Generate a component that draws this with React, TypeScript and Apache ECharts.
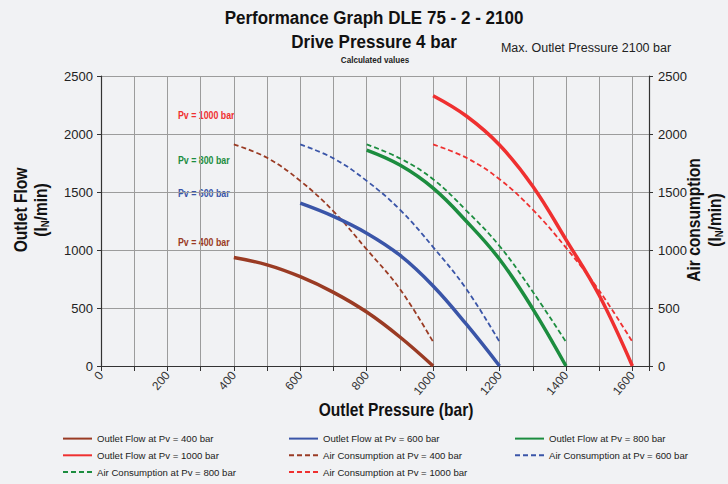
import React, { useEffect, useRef } from "react";
import * as echarts from "echarts";

// ---- data ----
const pressure400 = [400, 500, 600, 700, 800, 900, 1000];
const pressure600 = [600, 700, 800, 900, 1000, 1100, 1200];
const pressure800 = [800, 900, 1000, 1100, 1200, 1300, 1400];
const pressure1000 = [1000, 1100, 1200, 1300, 1400, 1500, 1600];

const flow400 = [935, 872, 770, 635, 465, 250, 0];
const flow600 = [1404, 1290, 1145, 955, 690, 360, 0];
const flow800 = [1861, 1732, 1533, 1248, 920, 493, 0];
const flow1000 = [2330, 2155, 1905, 1550, 1090, 610, 0];

const air400 = [1910, 1795, 1596, 1333, 1005, 664, 208];
const air600 = [1910, 1790, 1596, 1348, 1025, 664, 208];
const air800 = [1910, 1790, 1610, 1340, 1034, 640, 208];
const air1000 = [1910, 1795, 1610, 1348, 1020, 650, 208];

const yTicks = [0, 500, 1000, 1500, 2000, 2500];

const BROWN = "#9a3b24";
const BLUE = "#3a55a8";
const GREEN = "#1c8d3f";
const RED = "#ef3030";

const SANS = "'Liberation Sans', Arial, sans-serif";

const zip = (xs: number[], ys: number[]) => xs.map((x, i) => [x, ys[i]]);

export default function App() {
  const ref = useRef<HTMLDivElement>(null);
  useEffect(() => {
    if (!ref.current) return;
    const chart = echarts.init(ref.current, null, { renderer: "svg" });

    const solid = (name: string, xs: number[], ys: number[], color: string) => ({
      name,
      type: "line",
      data: zip(xs, ys),
      smooth: 0.4,
      symbol: "none",
      yAxisIndex: 0,
      lineStyle: { color, width: 3.5 },
      itemStyle: { color },
      z: 3,
    });
    const dashed = (name: string, xs: number[], ys: number[], color: string) => ({
      name,
      type: "line",
      data: zip(xs, ys),
      smooth: 0.4,
      symbol: "none",
      yAxisIndex: 1,
      lineStyle: { color, width: 1.8, type: [5, 3] },
      itemStyle: { color },
      z: 2,
    });

    const legendCommon = {
      orient: "vertical",
      top: 433,
      padding: 0,
      itemWidth: 29,
      itemHeight: 14,
      itemGap: 5.5,
      itemStyle: { opacity: 0 },
      textStyle: { fontFamily: SANS, fontSize: 9.6, color: "#222" },
    };

    const yLabelFmt = (v: number) => String(v);

    const option: any = {
      animation: false,
      backgroundColor: "#f1f2f4",
      grid: { left: 101, right: 79, top: 76, bottom: 118, containLabel: false },
      xAxis: {
        type: "value",
        min: 0,
        max: 1650,
        interval: 100,
        axisLine: { show: true, lineStyle: { color: "#333", width: 1.2 } },
        axisTick: { show: true, length: 5, lineStyle: { color: "#333" } },
        axisLabel: {
          rotate: 50,
          margin: 7,
          fontFamily: SANS,
          fontSize: 12,
          color: "#333",
          formatter: (v: number) => (v % 200 === 0 && v <= 1600 ? String(v) : ""),
        },
        splitLine: { show: true, lineStyle: { color: "#9c9c9c", width: 1 } },
      },
      yAxis: [
        {
          type: "value",
          min: yTicks[0],
          max: yTicks[yTicks.length - 1],
          interval: 500,
          position: "left",
          axisLine: { show: true, lineStyle: { color: "#333", width: 1.2 } },
          axisTick: { show: true, length: 4, lineStyle: { color: "#333" } },
          axisLabel: { fontFamily: SANS, fontSize: 13, color: "#222", margin: 8, formatter: yLabelFmt },
          splitLine: { show: true, lineStyle: { color: "#9c9c9c", width: 1 } },
        },
        {
          type: "value",
          min: yTicks[0],
          max: yTicks[yTicks.length - 1],
          interval: 500,
          position: "right",
          axisLine: { show: true, lineStyle: { color: "#333", width: 1.2 } },
          axisTick: { show: true, length: 4, lineStyle: { color: "#333" } },
          axisLabel: { fontFamily: SANS, fontSize: 13, color: "#222", margin: 9, formatter: yLabelFmt },
          splitLine: { show: false },
        },
      ],
      legend: [
        {
          ...legendCommon,
          left: 62,
          data: ["Outlet Flow at Pv = 400 bar", "Outlet Flow at Pv = 1000 bar", "Air Consumption at Pv = 800 bar"],
        },
        {
          ...legendCommon,
          left: 288,
          data: ["Outlet Flow at Pv = 600 bar", "Air Consumption at Pv = 400 bar", "Air Consumption at Pv = 1000 bar"],
        },
        {
          ...legendCommon,
          left: 514,
          data: ["Outlet Flow at Pv = 800 bar", "Air Consumption at Pv = 600 bar"],
        },
      ],
      series: [
        solid("Outlet Flow at Pv = 400 bar", pressure400, flow400, BROWN),
        solid("Outlet Flow at Pv = 600 bar", pressure600, flow600, BLUE),
        solid("Outlet Flow at Pv = 800 bar", pressure800, flow800, GREEN),
        solid("Outlet Flow at Pv = 1000 bar", pressure1000, flow1000, RED),
        dashed("Air Consumption at Pv = 400 bar", pressure400, air400, BROWN),
        dashed("Air Consumption at Pv = 600 bar", pressure600, air600, BLUE),
        dashed("Air Consumption at Pv = 800 bar", pressure800, air800, GREEN),
        dashed("Air Consumption at Pv = 1000 bar", pressure1000, air1000, RED),
      ],
      graphic: [
        {
          type: "text", x: 374, y: 18, scaleX: 0.92,
          style: { text: "Performance Graph DLE 75 - 2 - 2100", font: `bold 18.5px ${SANS}`, fill: "#111", align: "center", verticalAlign: "middle" },
        },
        {
          type: "text", x: 374, y: 42, scaleX: 0.92,
          style: { text: "Drive Pressure 4 bar", font: `bold 18.5px ${SANS}`, fill: "#111", align: "center", verticalAlign: "middle" },
        },
        {
          type: "text", x: 375, y: 60, scaleX: 0.9,
          style: { text: "Calculated values", font: `bold 9px ${SANS}`, fill: "#222", align: "center", verticalAlign: "middle" },
        },
        {
          type: "text", x: 586, y: 48,
          style: { text: "Max. Outlet Pressure 2100 bar", font: `12.5px ${SANS}`, fill: "#222", align: "center", verticalAlign: "middle" },
        },
        {
          type: "text", x: 396, y: 410, scaleX: 0.865,
          style: { text: "Outlet Pressure (bar)", font: `bold 18px ${SANS}`, fill: "#111", align: "center", verticalAlign: "middle" },
        },
        {
          type: "text", x: 21, y: 210, rotation: Math.PI / 2, scaleX: 0.865,
          style: { text: "Outlet Flow", font: `bold 18px ${SANS}`, fill: "#111", align: "center", verticalAlign: "middle" },
        },
        {
          type: "text", x: 41, y: 210, rotation: Math.PI / 2, scaleX: 0.865,
          style: {
            text: "(I{sub|N}/min)", font: `bold 18px ${SANS}`, fill: "#111", align: "center", verticalAlign: "middle",
            rich: { sub: { font: `bold 11px ${SANS}`, fill: "#111", padding: [9, 0, 0, 0] } },
          },
        },
        {
          type: "text", x: 694, y: 220, rotation: Math.PI / 2, scaleX: 0.865,
          style: { text: "Air consumption", font: `bold 18px ${SANS}`, fill: "#111", align: "center", verticalAlign: "middle" },
        },
        {
          type: "text", x: 715, y: 220, rotation: Math.PI / 2, scaleX: 0.865,
          style: {
            text: "(I{sub|N}/min)", font: `bold 18px ${SANS}`, fill: "#111", align: "center", verticalAlign: "middle",
            rich: { sub: { font: `bold 11px ${SANS}`, fill: "#111", padding: [9, 0, 0, 0] } },
          },
        },
        {
          type: "text", x: 178, y: 115.5, scaleX: 0.8,
          style: { text: "Pv = 1000 bar", font: `bold 11px ${SANS}`, fill: RED, verticalAlign: "middle" },
        },
        {
          type: "text", x: 178, y: 160, scaleX: 0.8,
          style: { text: "Pv = 800 bar", font: `bold 11px ${SANS}`, fill: GREEN, verticalAlign: "middle" },
        },
        {
          type: "text", x: 178, y: 193, scaleX: 0.8,
          style: { text: "Pv = 600 bar", font: `bold 11px ${SANS}`, fill: BLUE, verticalAlign: "middle" },
        },
        {
          type: "text", x: 178, y: 242.5, scaleX: 0.8,
          style: { text: "Pv = 400 bar", font: `bold 11px ${SANS}`, fill: BROWN, verticalAlign: "middle" },
        },
      ],
    };
    chart.setOption(option);
    return () => chart.dispose();
  }, []);
  return (
    <div
      ref={ref}
      style={{ position: "fixed", left: 0, top: 0, width: 728, height: 484, background: "#f1f2f4" }}
    />
  );
}
